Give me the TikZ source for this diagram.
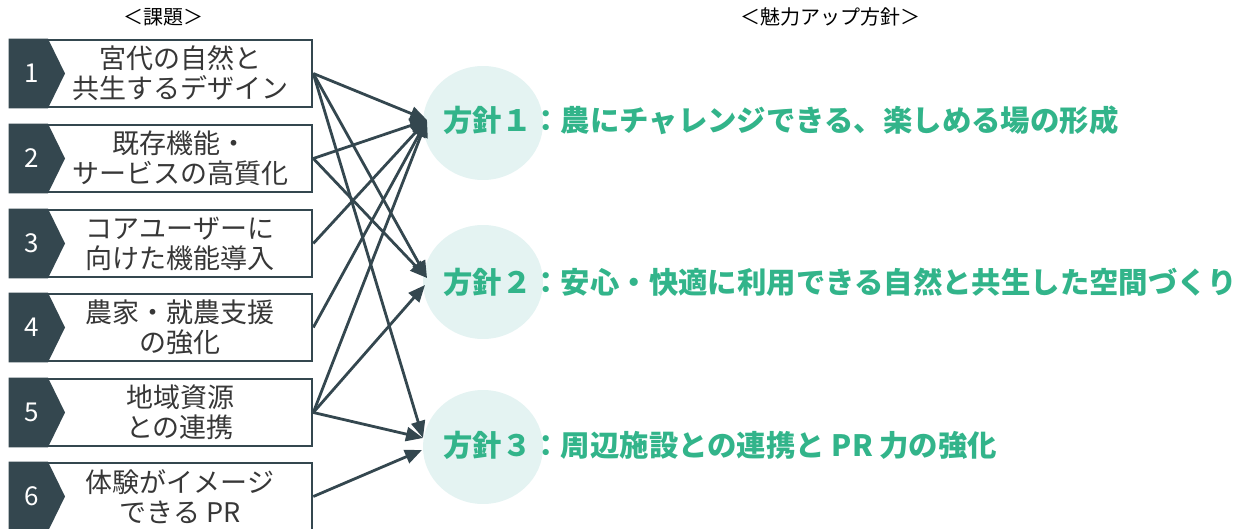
\documentclass[tikz,border=0pt]{standalone}
\usepackage{fontspec}
\setmainfont{Noto Sans CJK JP}
\usetikzlibrary{arrows.meta}
\definecolor{slate}{RGB}{52,71,79}
\definecolor{pgreen}{RGB}{50,180,138}
\definecolor{pcirc}{RGB}{228,243,242}
\definecolor{ktext}{RGB}{55,55,55}
\tikzset{
  kbox/.style={draw=slate,line width=2.6pt,minimum width=302pt,minimum height=67pt,inner sep=0pt},
  numtext/.style={text=white,font=\fontsize{26}{28}\selectfont},
  boxtext/.style={text=ktext,align=center,font=\fontsize{27}{30}\selectfont,inner sep=0pt},
  ptext/.style={text=pgreen,anchor=west,font=\fontsize{29.4}{32}\selectfont\bfseries,inner sep=0pt},
  head/.style={text=black,font=\fontsize{20}{24}\selectfont},
  arr/.style={draw=slate,line width=2.8pt,-{Triangle[length=17pt,width=14pt]}}
}
\newcommand\kadai[5]{%
  \node[kbox] (#1) at (161,#3+33.5) {};
  \fill[slate] (8.7,#3-1.3) -- (48,#3-1.3) -- (65,#3+33.5) -- (48,#3+68.3) -- (8.7,#3+68.3) -- cycle;
  \node[numtext] (#1n) at (32,#3+33.5) {#2};
  \node[boxtext] (#1t) at (180,#3+33.5) {#4\\#5};
}
\begin{document}
\begin{tikzpicture}[x=1pt,y=-1pt]
\useasboundingbox (0,0) rectangle (1246,529);
\clip (0,0) rectangle (1246,529);
\node[head] (h1) at (163,17) {＜課題＞};
\node[head] (h2) at (830,17) {＜魅力アップ方針＞};
\kadai{k1}{1}{40}{宮代の自然と}{共生するデザイン}
\kadai{k2}{2}{125}{既存機能・}{サービスの高質化}
\kadai{k3}{3}{210}{コアユーザーに}{向けた機能導入}
\kadai{k4}{4}{294}{農家・就農支援}{の強化}
\kadai{k5}{5}{379}{地域資源}{との連携}
\kadai{k6}{6}{463}{体験がイメージ}{できる PR}
\fill[pcirc] (483,123) ellipse [x radius=60, y radius=57];
\fill[pcirc] (483,282) ellipse [x radius=60, y radius=57];
\fill[pcirc] (483,447) ellipse [x radius=60, y radius=57];
\node[ptext] (p1) at (443,120) {方針１：農にチャレンジできる、楽しめる場の形成};
\node[ptext] (p2) at (443,282) {方針２：安心・快適に利用できる自然と共生した空間づくり};
\node[ptext] (p3) at (443,445) {方針３：周辺施設との連携と PR 力の強化};
\coordinate (t1) at (427,120);
\coordinate (t2a) at (427,278);
\coordinate (t2b) at (425,285);
\coordinate (t3a) at (423,438);
\coordinate (t3b) at (422,450);
\draw[arr] (k1.east) -- (t1);
\draw[arr] (k2.east) -- (t1);
\draw[arr] (k3.east) -- (t1);
\draw[arr] (k4.east) -- (t1);
\draw[arr] (k5.east) -- (t1);
\draw[arr] (k1.east) -- (t2a);
\draw[arr] (k2.east) -- (t2a);
\draw[arr] (k5.east) -- (t2b);
\draw[arr] (k1.east) -- (t3a);
\draw[arr] (k5.east) -- (t3a);
\draw[arr] (k6.east) -- (t3b);
\end{tikzpicture}
\end{document}
